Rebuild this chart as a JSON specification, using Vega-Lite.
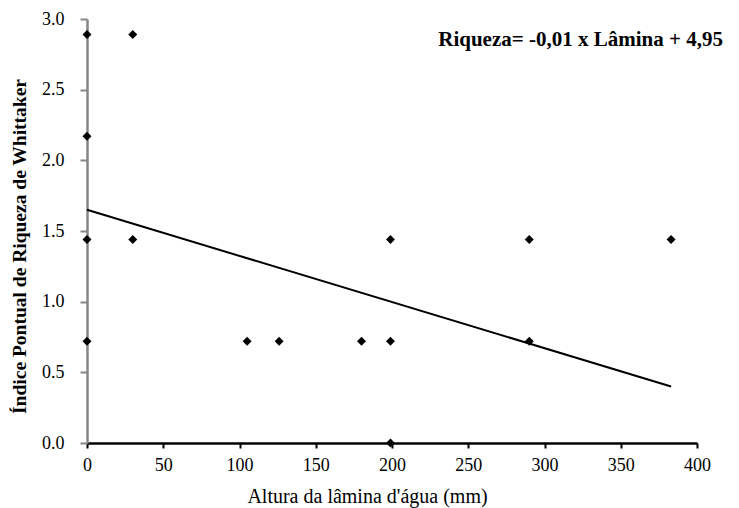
{
  "$schema": "https://vega.github.io/schema/vega-lite/v6.json",
  "width": 610,
  "height": 424,
  "padding": {"left": 87, "top": 19, "right": 42, "bottom": 65},
  "autosize": {"type": "none"},
  "background": "white",
  "config": {
    "view": {"stroke": null},
    "font": "Liberation Serif"
  },
  "datasets": {
    "points": [
      {"lamina": 0, "riqueza": 2.89},
      {"lamina": 0, "riqueza": 2.17},
      {"lamina": 0, "riqueza": 1.44},
      {"lamina": 0, "riqueza": 0.72},
      {"lamina": 30, "riqueza": 2.89},
      {"lamina": 30, "riqueza": 1.44},
      {"lamina": 105, "riqueza": 0.72},
      {"lamina": 126, "riqueza": 0.72},
      {"lamina": 180, "riqueza": 0.72},
      {"lamina": 199, "riqueza": 0.72},
      {"lamina": 199, "riqueza": 1.44},
      {"lamina": 199, "riqueza": 0.0},
      {"lamina": 290, "riqueza": 1.44},
      {"lamina": 290, "riqueza": 0.72},
      {"lamina": 383, "riqueza": 1.44}
    ],
    "fit": [
      {"lamina": 0, "riqueza": 1.65},
      {"lamina": 383, "riqueza": 0.40}
    ],
    "label": [
      {"lamina": 417, "riqueza": 2.85, "text": "Riqueza= -0,01 x Lâmina + 4,95"}
    ]
  },
  "layer": [
    {
      "data": {"name": "points"},
      "mark": {"type": "point", "shape": "diamond", "filled": true, "color": "black", "size": 80, "opacity": 1},
      "encoding": {
        "x": {
          "field": "lamina", "type": "quantitative",
          "scale": {"domain": [0, 400], "nice": false, "zero": true},
          "axis": {
            "title": "Altura da lâmina d'água (mm)",
            "values": [0, 50, 100, 150, 200, 250, 300, 350, 400],
            "format": "d",
            "grid": false,
            "domainColor": "black", "domainWidth": 2.5,
            "tickColor": "black", "tickWidth": 2, "tickSize": 5,
            "labelFont": "Liberation Serif", "labelFontSize": 18, "labelColor": "black", "labelPadding": 8,
            "labelFlush": false,
            "titleFont": "Liberation Serif", "titleFontSize": 20, "titleFontWeight": "normal", "titleColor": "black",
            "titlePadding": 12, "titleX": 280, "titleAnchor": "middle"
          }
        },
        "y": {
          "field": "riqueza", "type": "quantitative",
          "scale": {"domain": [0, 3], "nice": false},
          "axis": {
            "title": "Índice Pontual de Riqueza de Whittaker",
            "values": [0, 0.5, 1, 1.5, 2, 2.5, 3],
            "format": ".1f",
            "grid": false,
            "domainColor": "#868686", "domainWidth": 2.5,
            "tickColor": "#868686", "tickWidth": 2, "tickSize": 7,
            "labelFont": "Liberation Serif", "labelFontSize": 18, "labelColor": "black", "labelPadding": 16,
            "labelFlush": false,
            "titleFont": "Liberation Serif", "titleFontSize": 19.5, "titleFontWeight": "bold", "titleColor": "black",
            "titlePadding": 12, "titleY": 227
          }
        }
      }
    },
    {
      "data": {"name": "fit"},
      "mark": {"type": "line", "color": "black", "strokeWidth": 2},
      "encoding": {
        "x": {"field": "lamina", "type": "quantitative"},
        "y": {"field": "riqueza", "type": "quantitative"}
      }
    },
    {
      "data": {"name": "label"},
      "mark": {"type": "text", "align": "right", "baseline": "middle", "font": "Liberation Serif", "fontSize": 21, "fontWeight": "bold", "color": "black"},
      "encoding": {
        "x": {"field": "lamina", "type": "quantitative"},
        "y": {"field": "riqueza", "type": "quantitative"},
        "text": {"field": "text"}
      }
    }
  ]
}
